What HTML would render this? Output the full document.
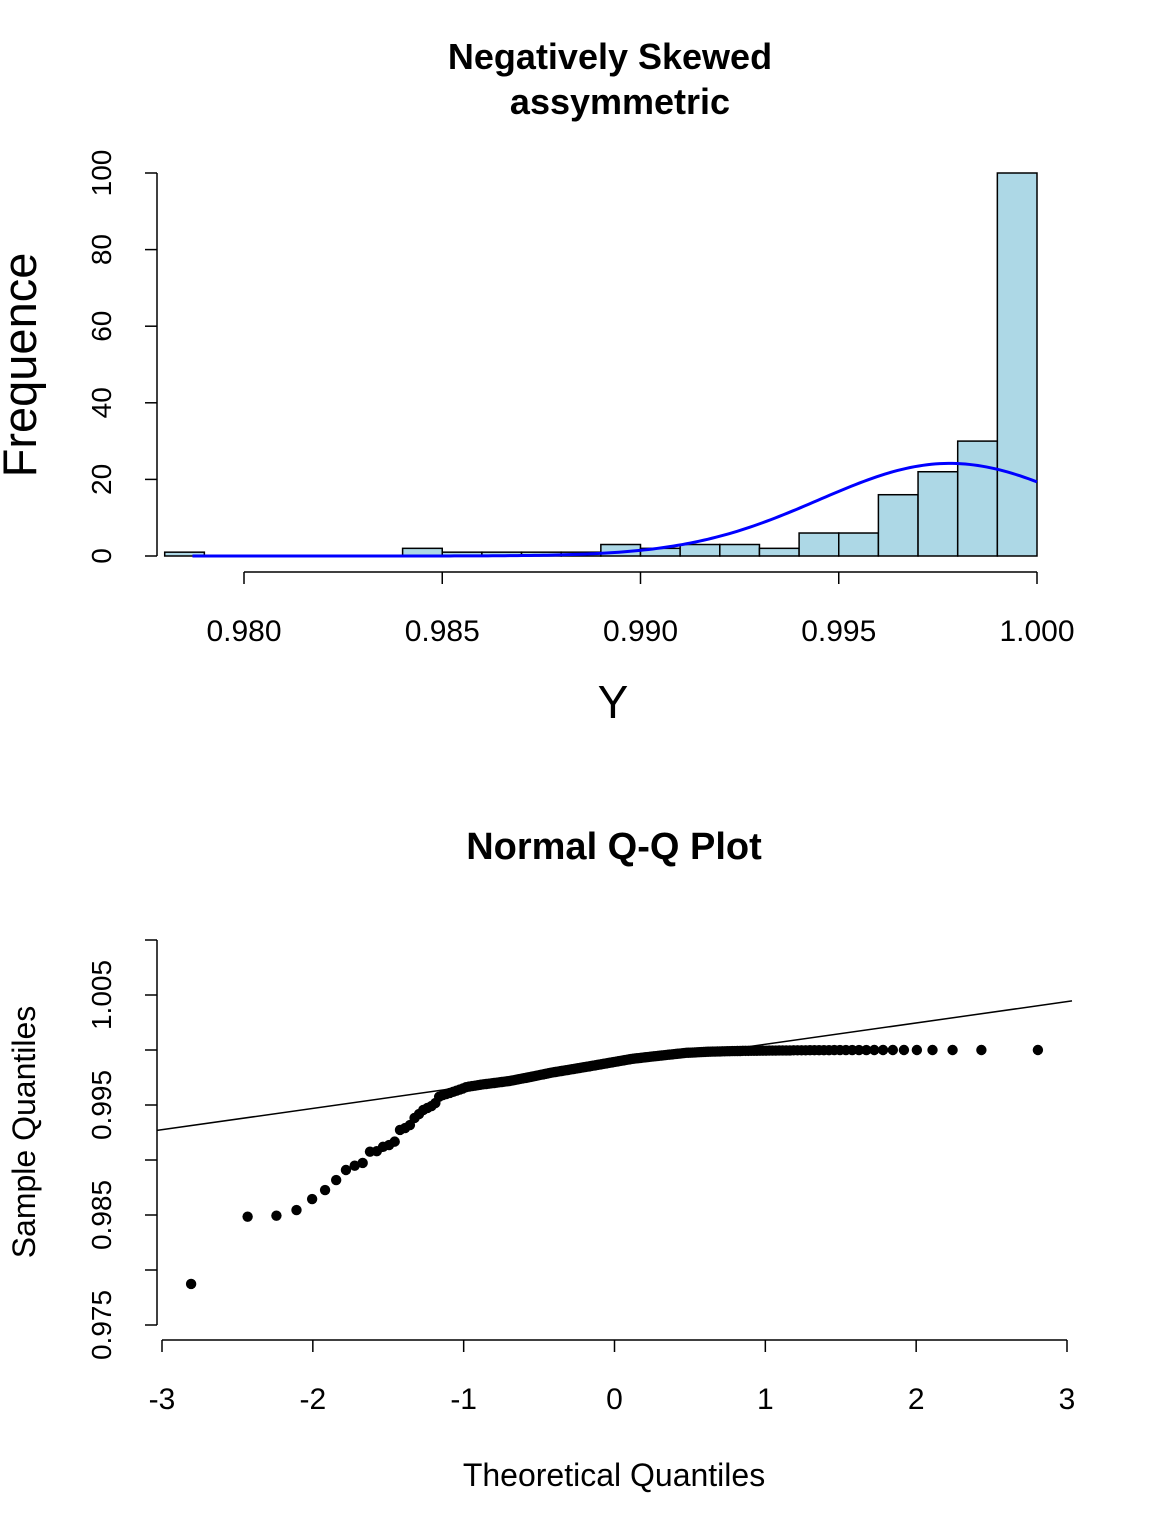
<!DOCTYPE html>
<html><head><meta charset="utf-8"><style>
html,body{margin:0;padding:0;background:#fff;}
svg{display:block;font-family:"Liberation Sans",Arial,sans-serif;}
</style></head><body>
<svg id="chart" width="1152" height="1536" viewBox="0 0 1152 1536" xmlns="http://www.w3.org/2000/svg">
<g>
<text x="610" y="69" text-anchor="middle" font-size="36" font-weight="bold">Negatively Skewed</text>
<text x="620" y="114" text-anchor="middle" font-size="36" font-weight="bold">assymmetric</text>
<text transform="translate(36,365) rotate(-90)" text-anchor="middle" font-size="47">Frequence</text>
<text x="613" y="718" text-anchor="middle" font-size="46">Y</text>
<g id="hist-bars"></g>
<path id="density" fill="none" stroke="#0000ff" stroke-width="3"/>
<g id="hist-axes"></g>
</g>
<g>
<text x="614" y="859" text-anchor="middle" font-size="38" font-weight="bold">Normal Q-Q Plot</text>
<text x="614" y="1486" text-anchor="middle" font-size="32">Theoretical Quantiles</text>
<text transform="translate(35,1132) rotate(-90)" text-anchor="middle" font-size="32">Sample Quantiles</text>
<line id="qqline" stroke="#000" stroke-width="1.5"/>
<g id="qq-points"></g>
<g id="qq-axes"></g>
</g>
</svg>
<script>
const binStarts = [0.978,0.984,0.985,0.986,0.987,0.988,0.989,0.990,0.991,0.992,0.993,0.994,0.995,0.996,0.997,0.998,0.999];
const binCounts = [1,2,1,1,1,1,3,2,3,3,2,6,6,16,22,30,100];
const histXTicks = [0.980,0.985,0.990,0.995,1.000];
const histXLabels = ["0.980","0.985","0.990","0.995","1.000"];
const histYTicks = [0,20,40,60,80,100];
const densityMean = 0.9978;
const densitySd = 0.0033;
const sampleValues = [
0.97873,0.98485,0.98494,0.98545,0.98645,0.98727,0.98818,0.98909,0.98948,0.98973,
0.99076,0.99080,0.99120,0.99136,0.99167,0.99273,0.99290,0.99318,0.99382,0.99418,
0.99455,0.99473,0.99490,0.99518,0.99575,0.99590,0.99600,0.99610,0.99620,0.99630,
0.99640,0.99650,0.99662,0.99668,0.99672,0.99676,0.99680,0.99684,0.99688,0.99691,
0.99694,0.99697,0.99700,0.99703,0.99706,0.99709,0.99712,0.99715,0.99718,0.99722,
0.99726,0.99730,0.99734,0.99738,0.99742,0.99746,0.99750,0.99754,0.99758,0.99762,
0.99766,0.99770,0.99774,0.99778,0.99782,0.99786,0.99790,0.99794,0.99797,0.99800,
0.99803,0.99806,0.99809,0.99812,0.99815,0.99818,0.99821,0.99824,0.99827,0.99830,
0.99833,0.99836,0.99839,0.99842,0.99845,0.99848,0.99851,0.99854,0.99857,0.99860,
0.99863,0.99866,0.99869,0.99872,0.99875,0.99878,0.99881,0.99884,0.99887,0.99890,
0.99893,0.99896,0.99899,0.99902,0.99905,0.99908,0.99911,0.99914,0.99917,0.99920,
0.99922,0.99924,0.99926,0.99928,0.99930,0.99932,0.99934,0.99936,0.99938,0.99940,
0.99942,0.99944,0.99946,0.99948,0.99950,0.99952,0.99954,0.99956,0.99958,0.99960,
0.99962,0.99964,0.99966,0.99968,0.99970,0.99972,0.99974,0.99975,0.99976,0.99977,
0.99978,0.99979,0.99980,0.99981,0.99982,0.99983,0.99984,0.99985,0.99986,0.99986,
0.99987,0.99987,0.99988,0.99988,0.99989,0.99989,0.99990,0.99990,0.99991,0.99991,
0.99992,0.99992,0.99992,0.99993,0.99993,0.99993,0.99994,0.99994,0.99994,0.99995,
0.99995,0.99995,0.99996,0.99996,0.99996,0.99996,0.99997,0.99997,0.99997,0.99997,
0.99998,0.99998,0.99998,0.99998,0.99998,0.99999,0.99999,0.99999,0.99999,0.99999,
0.99999,1.00000,1.00000,1.00000,1.00000,1.00000,1.00000,1.00000,1.00000,1.00000];
const qqXTicks = [-3,-2,-1,0,1,2,3];
const qqYTicks = [0.975,0.980,0.985,0.990,0.995,1.000,1.005,1.010];
const qqYLabels = ["0.975","","0.985","","0.995","","1.005",""];

const NS = "http://www.w3.org/2000/svg";
function mk(tag, attrs, parent){const e=document.createElementNS(NS,tag);for(const k in attrs)e.setAttribute(k,attrs[k]);parent.appendChild(e);return e;}

const hx = v => 244 + (v-0.980)/0.020*(1037-244);
const hy = v => 556 - v*(556-173)/100;
const binW = 0.001;
const hb = document.getElementById('hist-bars');
binStarts.forEach((s,i)=>{
  const r = mk('rect',{x:hx(s),y:hy(binCounts[i]),width:hx(s+binW)-hx(s),height:hy(0)-hy(binCounts[i]),fill:'#add8e6',stroke:'#000','stroke-width':1.5},hb);
  
  
});
const total = binCounts.reduce((a,b)=>a+b,0);
let d='';
for(let k=0;k<=200;k++){
  const v = 0.9787 + (1.000-0.9787)*k/200;
  const z=(v-densityMean)/densitySd;
  const f = total*binW*Math.exp(-z*z/2)/(densitySd*Math.sqrt(2*Math.PI));
  d += (k?'L':'M')+hx(v).toFixed(2)+','+hy(f).toFixed(2);
}
document.getElementById('density').setAttribute('d',d);
const ha = document.getElementById('hist-axes');
mk('line',{x1:157,y1:hy(0),x2:157,y2:hy(100),stroke:'#000','stroke-width':1.5},ha);
histYTicks.forEach(t=>{
  mk('line',{x1:145,y1:hy(t),x2:157,y2:hy(t),stroke:'#000','stroke-width':1.5},ha);
  const tx=mk('text',{transform:`translate(111,${hy(t)}) rotate(-90)`,'text-anchor':'middle','font-size':28},ha);
  tx.textContent=t;
  
  
});
mk('line',{x1:hx(0.980),y1:572,x2:hx(1.000),y2:572,stroke:'#000','stroke-width':1.5},ha);
histXTicks.forEach((t,i)=>{
  mk('line',{x1:hx(t),y1:572,x2:hx(t),y2:584,stroke:'#000','stroke-width':1.5},ha);
  const tx=mk('text',{x:hx(t),y:641,'text-anchor':'middle','font-size':30},ha);
  tx.textContent=histXLabels[i];
  
  
});

function qnorm(p){
  const a=[-39.69683028665376,220.9460984245205,-275.9285104469687,138.357751867269,-30.66479806614716,2.506628277459239];
  const b=[-54.47609879822406,161.5858368580409,-155.6989798598866,66.80131188771972,-13.28068155288572];
  const c=[-0.007784894002430293,-0.3223964580411365,-2.400758277161838,-2.549732539343734,4.374664141464968,2.938163982698783];
  const e=[0.007784695709041462,0.3224671290700398,2.445134137142996,3.754408661907416];
  const pl=0.02425;let q,r;
  if(p<pl){q=Math.sqrt(-2*Math.log(p));return (((((c[0]*q+c[1])*q+c[2])*q+c[3])*q+c[4])*q+c[5])/((((e[0]*q+e[1])*q+e[2])*q+e[3])*q+1);}
  if(p>1-pl){q=Math.sqrt(-2*Math.log(1-p));return -(((((c[0]*q+c[1])*q+c[2])*q+c[3])*q+c[4])*q+c[5])/((((e[0]*q+e[1])*q+e[2])*q+e[3])*q+1);}
  q=p-0.5;r=q*q;return (((((a[0]*r+a[1])*r+a[2])*r+a[3])*r+a[4])*r+a[5])*q/(((((b[0]*r+b[1])*r+b[2])*r+b[3])*r+b[4])*r+1);
}
const qx = v => 162 + (v+3)/6*(1067-162);
const qy = v => 1325 - (v-0.975)/0.005*55;
const n = sampleValues.length;
const sorted = sampleValues.slice().sort((a,b)=>a-b);
const qp = document.getElementById('qq-points');
sorted.forEach((v,i)=>{
  const t = qnorm((i+1-0.5)/n);
  const c = mk('circle',{cx:qx(t),cy:qy(v),r:5.2,fill:'#000'},qp);
  
  
});
function quant(arr,p){const h=(arr.length-1)*p;const lo=Math.floor(h);return arr[lo]+(h-lo)*(arr[Math.min(lo+1,arr.length-1)]-arr[lo]);}
const y1q=quant(sorted,0.25), y3q=quant(sorted,0.75);
const x1q=qnorm(0.25), x3q=qnorm(0.75);
const slope=(y3q-y1q)/(x3q-x1q), icpt=y1q-slope*x1q;
const xa=-3.03, xb=3.05;
const ql=document.getElementById('qqline');
ql.setAttribute('x1',157);ql.setAttribute('y1',qy(icpt+slope*xa));
ql.setAttribute('x2',1072);ql.setAttribute('y2',qy(icpt+slope*xb));
const qa=document.getElementById('qq-axes');
mk('line',{x1:157,y1:qy(0.975),x2:157,y2:qy(1.010),stroke:'#000','stroke-width':1.5},qa);
qqYTicks.forEach((t,i)=>{
  mk('line',{x1:145,y1:qy(t),x2:157,y2:qy(t),stroke:'#000','stroke-width':1.5},qa);
  if(qqYLabels[i]){
    const tx=mk('text',{transform:`translate(111,${qy(t)}) rotate(-90)`,'text-anchor':'middle','font-size':28},qa);
    tx.textContent=qqYLabels[i];
    
    
  }
});
mk('line',{x1:qx(-3),y1:1340,x2:qx(3),y2:1340,stroke:'#000','stroke-width':1.5},qa);
qqXTicks.forEach(t=>{
  mk('line',{x1:qx(t),y1:1340,x2:qx(t),y2:1352,stroke:'#000','stroke-width':1.5},qa);
  const tx=mk('text',{x:qx(t),y:1409,'text-anchor':'middle','font-size':30},qa);
  tx.textContent=t;
  
  
});
</script>
</body></html>
